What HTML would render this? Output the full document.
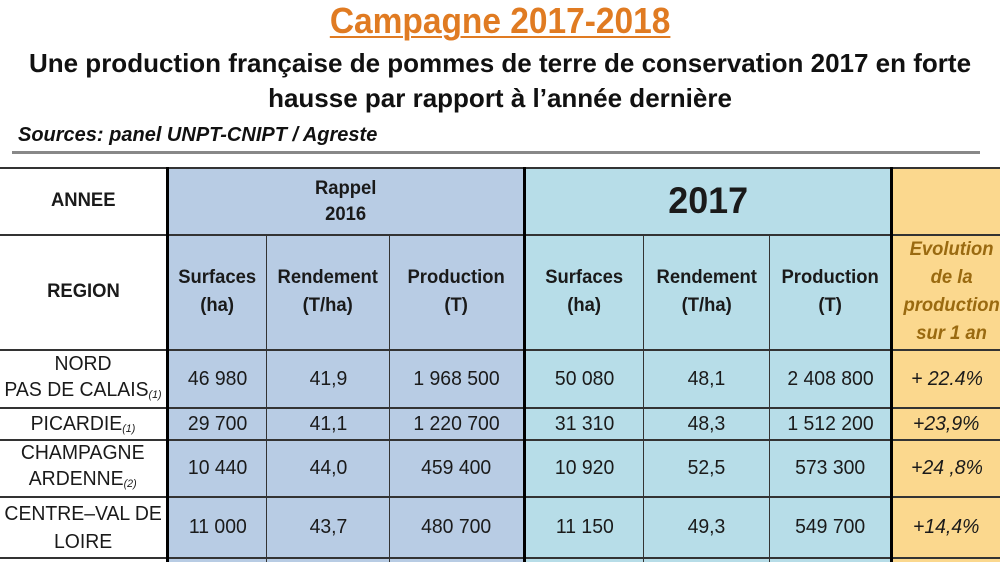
<!DOCTYPE html>
<html><head><meta charset="utf-8"><style>
body{margin:0;width:1000px;height:562px;overflow:hidden;background:#fff;font-family:"Liberation Sans",sans-serif;position:relative}
.a{position:absolute;box-sizing:border-box}
.c{position:absolute;display:flex;align-items:center;justify-content:center;text-align:center;box-sizing:border-box;color:#1a1a1a}
.t{display:inline-block;transform:scaleX(0.97);white-space:nowrap}
.h{font-weight:bold;font-size:19px;line-height:28px}
.n{font-size:20px}
.e{font-style:italic;color:#1a1a1a;font-size:20px}
.eh{font-style:italic;font-weight:bold;color:#9a6a10;font-size:19px;line-height:28px}
sub{font-size:11px;font-style:italic;vertical-align:-2px}
</style></head><body>
<div class="a" style="left:0;top:0px;width:1000px;text-align:center;font-size:36px;font-weight:bold;color:#e07b22"><span class="t" style="transform:scaleX(0.93);text-decoration:underline;text-decoration-thickness:2px;text-underline-offset:3px">Campagne 2017-2018</span></div>
<div class="a" style="left:0;top:48px;width:1000px;text-align:center;font-size:26px;font-weight:bold;color:#111"><span class="t" style="transform:none">Une production française de pommes de terre de conservation 2017 en forte</span></div>
<div class="a" style="left:0;top:83px;width:1000px;text-align:center;font-size:26px;font-weight:bold;color:#111"><span class="t" style="transform:none">hausse par rapport à l’année dernière</span></div>
<div class="a" style="left:18px;top:124px;font-size:20px;font-weight:bold;font-style:italic;color:#111"><span class="t" style="transform:none">Sources: panel UNPT-CNIPT / Agreste</span></div>
<div class="a" style="left:12px;top:151px;width:968px;height:3px;background:#888"></div>

<div class="a" style="left:167px;top:167px;width:358px;height:395px;background:#b8cce4"></div>
<div class="a" style="left:525px;top:167px;width:366px;height:395px;background:#b7dde8"></div>
<div class="a" style="left:891px;top:167px;width:109px;height:395px;background:#fbd88e"></div>

<div class="a" style="left:0;top:167px;width:1000px;height:2px;background:#333"></div>
<div class="a" style="left:0;top:234px;width:1000px;height:2px;background:#333"></div>
<div class="a" style="left:0;top:349px;width:1000px;height:2px;background:#333"></div>
<div class="a" style="left:0;top:407px;width:1000px;height:2px;background:#333"></div>
<div class="a" style="left:0;top:439px;width:1000px;height:2px;background:#333"></div>
<div class="a" style="left:0;top:496px;width:1000px;height:2px;background:#333"></div>
<div class="a" style="left:0;top:557px;width:1000px;height:2px;background:#333"></div>
<div class="a" style="left:166px;top:167px;width:3px;height:395px;background:#000"></div>
<div class="a" style="left:523px;top:167px;width:3px;height:395px;background:#000"></div>
<div class="a" style="left:890px;top:167px;width:3px;height:395px;background:#000"></div>
<div class="a" style="left:266px;top:234px;width:1px;height:328px;background:#333"></div>
<div class="a" style="left:389px;top:234px;width:1px;height:328px;background:#333"></div>
<div class="a" style="left:643px;top:234px;width:1px;height:328px;background:#333"></div>
<div class="a" style="left:769px;top:234px;width:1px;height:328px;background:#333"></div>

<div class="c h" style="left:0;top:168px;width:166px;height:66px"><span class="t">ANNEE</span></div>
<div class="c h" style="left:0;top:235px;width:166px;height:114px"><span class="t">REGION</span></div>
<div class="c h" style="left:169px;top:170px;width:354px;height:64px;line-height:26px"><span class="t">Rappel<br>2016</span></div>
<div class="c" style="left:526px;top:168px;width:364px;height:66px;font-weight:bold;font-size:37px"><span class="t">2017</span></div>
<div class="c h" style="left:169px;top:235px;width:97px;height:114px"><span class="t">Surfaces<br>(ha)</span></div>
<div class="c h" style="left:267px;top:235px;width:122px;height:114px"><span class="t">Rendement<br>(T/ha)</span></div>
<div class="c h" style="left:390px;top:235px;width:133px;height:114px"><span class="t">Production<br>(T)</span></div>
<div class="c h" style="left:526px;top:235px;width:117px;height:114px"><span class="t">Surfaces<br>(ha)</span></div>
<div class="c h" style="left:644px;top:235px;width:125px;height:114px"><span class="t">Rendement<br>(T/ha)</span></div>
<div class="c h" style="left:770px;top:235px;width:120px;height:114px"><span class="t">Production<br>(T)</span></div>
<div class="c eh" style="left:893px;top:235px;width:117px;height:114px"><span class="t">Evolution<br>de la<br>production<br>sur 1 an</span></div>

<div class="c n" style="left:0;top:351px;width:166px;height:56px;line-height:26px"><span class="t">NORD<br>PAS DE CALAIS<sub>(1)</sub></span></div>
<div class="c n" style="left:0;top:409px;width:166px;height:30px"><span class="t">PICARDIE<sub>(1)</sub></span></div>
<div class="c n" style="left:0;top:441px;width:166px;height:55px;line-height:26px"><span class="t">CHAMPAGNE<br>ARDENNE<sub>(2)</sub></span></div>
<div class="c n" style="left:0;top:498px;width:166px;height:59px;line-height:28px"><span class="t">CENTRE–VAL DE<br>LOIRE</span></div>

<div class="c n" style="left:169px;top:351px;width:97px;height:56px"><span class="t">46 980</span></div>
<div class="c n" style="left:267px;top:351px;width:122px;height:56px"><span class="t">41,9</span></div>
<div class="c n" style="left:390px;top:351px;width:133px;height:56px"><span class="t">1 968 500</span></div>
<div class="c n" style="left:526px;top:351px;width:117px;height:56px"><span class="t">50 080</span></div>
<div class="c n" style="left:644px;top:351px;width:125px;height:56px"><span class="t">48,1</span></div>
<div class="c n" style="left:770px;top:351px;width:120px;height:56px"><span class="t">2 408 800</span></div>
<div class="c e" style="left:893px;top:351px;width:107px;height:56px"><span class="t">+ 22.4%</span></div>

<div class="c n" style="left:169px;top:409px;width:97px;height:30px"><span class="t">29 700</span></div>
<div class="c n" style="left:267px;top:409px;width:122px;height:30px"><span class="t">41,1</span></div>
<div class="c n" style="left:390px;top:409px;width:133px;height:30px"><span class="t">1 220 700</span></div>
<div class="c n" style="left:526px;top:409px;width:117px;height:30px"><span class="t">31 310</span></div>
<div class="c n" style="left:644px;top:409px;width:125px;height:30px"><span class="t">48,3</span></div>
<div class="c n" style="left:770px;top:409px;width:120px;height:30px"><span class="t">1 512 200</span></div>
<div class="c e" style="left:893px;top:409px;width:107px;height:30px"><span class="t">+23,9%</span></div>

<div class="c n" style="left:169px;top:441px;width:97px;height:55px"><span class="t">10 440</span></div>
<div class="c n" style="left:267px;top:441px;width:122px;height:55px"><span class="t">44,0</span></div>
<div class="c n" style="left:390px;top:441px;width:133px;height:55px"><span class="t">459 400</span></div>
<div class="c n" style="left:526px;top:441px;width:117px;height:55px"><span class="t">10 920</span></div>
<div class="c n" style="left:644px;top:441px;width:125px;height:55px"><span class="t">52,5</span></div>
<div class="c n" style="left:770px;top:441px;width:120px;height:55px"><span class="t">573 300</span></div>
<div class="c e" style="left:893px;top:441px;width:107px;height:55px"><span class="t">+24 ,8%</span></div>

<div class="c n" style="left:169px;top:498px;width:97px;height:59px"><span class="t">11 000</span></div>
<div class="c n" style="left:267px;top:498px;width:122px;height:59px"><span class="t">43,7</span></div>
<div class="c n" style="left:390px;top:498px;width:133px;height:59px"><span class="t">480 700</span></div>
<div class="c n" style="left:526px;top:498px;width:117px;height:59px"><span class="t">11 150</span></div>
<div class="c n" style="left:644px;top:498px;width:125px;height:59px"><span class="t">49,3</span></div>
<div class="c n" style="left:770px;top:498px;width:120px;height:59px"><span class="t">549 700</span></div>
<div class="c e" style="left:893px;top:498px;width:107px;height:59px"><span class="t">+14,4%</span></div>
</body></html>
